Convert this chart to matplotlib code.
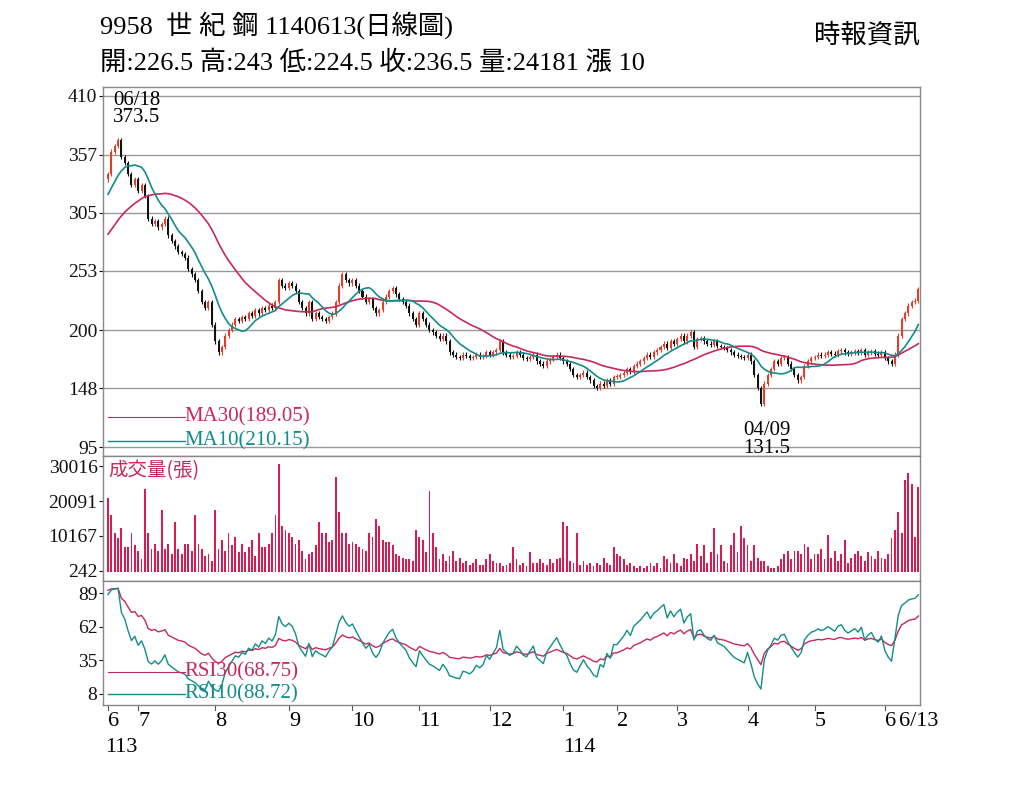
import matplotlib
matplotlib.use("Agg")
import matplotlib.pyplot as plt
from matplotlib import font_manager
import numpy as np
import pandas as pd

_names = {f.name for f in font_manager.fontManager.ttflist}
CJK = [f for f in ["Noto Sans CJK TC", "Noto Sans CJK JP", "Noto Sans CJK SC", "Noto Sans CJK KR"] if f in _names]
plt.rcParams['font.family'] = ['Liberation Serif'] + CJK

# ---------------- data ----------------
pre_closes = [230, 235, 240, 238, 245, 250, 255, 252, 260, 265, 262, 270, 275, 272, 280,
              285, 290, 288, 295, 300, 305, 302, 310, 315, 312, 320, 325, 330, 328, 335]
month_lengths = [9, 23, 22, 19, 20, 21, 22, 16, 18, 21, 20, 21, 11]
month_labels = ["6", "7", "8", "9", "10", "11", "12", "1", "2", "3", "4", "5", "6"]
closes = (
    [340, 360, 365, 370, 355, 350, 340, 330, 335] +
    [325, 330, 320, 300, 295, 298, 292, 295, 300, 285, 280, 275, 270, 268, 265, 255, 250, 245, 235, 225, 220, 225, 205] +
    [190, 180, 185, 195, 200, 205, 210, 208, 212, 210, 215, 213, 218, 215, 220, 218, 222, 220, 225, 245, 240, 238] +
    [242, 240, 235, 225, 220, 215, 225, 210, 215, 212, 210, 208, 212, 215, 225, 240, 250, 245, 242] +
    [245, 240, 235, 230, 225, 228, 220, 215, 218, 225, 230, 235, 238, 232, 228, 225, 222, 215, 210, 205] +
    [215, 210, 205, 200, 198, 195, 192, 195, 190, 180, 178, 176, 175, 178, 177, 175, 176, 178, 176, 177, 180] +
    [178, 180, 182, 190, 180, 178, 176, 177, 180, 178, 175, 174, 176, 178, 172, 170, 168, 172, 174, 176, 178, 175] +
    [172, 170, 165, 160, 158, 160, 162, 158, 155, 150, 148, 152, 150, 155, 152, 158] +
    [158, 160, 162, 165, 163, 168, 170, 172, 175, 178, 176, 180, 182, 185, 188, 184, 190, 188] +
    [192, 195, 190, 195, 198, 185, 192, 193, 190, 188, 187, 190, 186, 185, 184, 182, 180, 178, 177, 176, 175] +
    [178, 172, 160, 148, 134, 152, 160, 165, 172, 170, 175, 176, 170, 165, 160, 155, 158, 168, 172, 175] +
    [176, 178, 177, 178, 180, 179, 178, 181, 182, 180, 179, 180, 181, 180, 182, 178, 180, 181, 179, 178, 180] +
    [175, 172, 170, 178, 195, 210, 215, 222, 225, 226.5, 236.5]
)
volumes = (
    [21000, 16000, 11000, 9500, 12500, 7000, 7000, 11000, 7500] +
    [6000, 3500, 23500, 11000, 6500, 8000, 6000, 17500, 6500, 8000, 5000, 14000, 6500, 5000, 8000, 8000, 6000, 16000, 8000, 6500, 4500, 5000, 3000] +
    [17500, 6500, 9000, 6000, 11000, 7500, 10000, 5500, 8000, 5500, 7000, 9000, 4500, 11000, 7000, 7000, 8000, 11000, 16000, 30500, 13000, 12000] +
    [11000, 10000, 8000, 9000, 6000, 3500, 5000, 5500, 7500, 14000, 11000, 11000, 8500, 9000, 27000, 17000, 11000, 11000, 8000] +
    [8500, 8000, 7000, 6500, 6000, 11000, 10000, 15000, 13000, 9000, 8500, 8500, 7500, 5000, 4500, 4000, 3500, 3500, 3000, 12000] +
    [10000, 9000, 5500, 23000, 11000, 7000, 3500, 5000, 3000, 4500, 6000, 3000, 4000, 2500, 3000, 2000, 2500, 3500, 2000, 2000, 3500] +
    [5000, 3000, 2500, 2500, 1500, 2000, 2500, 7000, 3500, 2000, 2500, 1500, 5500, 2500, 2500, 3500, 2500, 2000, 3500, 2500, 3500, 4000] +
    [14000, 13000, 3000, 2500, 11000, 2000, 3000, 2000, 2500, 1500, 2500, 2000, 4000, 2500, 2000, 7000] +
    [5000, 4500, 3500, 2000, 2500, 1500, 1000, 1500, 1000, 1500, 2500, 1500, 2500, 1000, 4500, 3500, 2500, 5000] +
    [2500, 1500, 4000, 3500, 5000, 3000, 8000, 4500, 7500, 2500, 5500, 12500, 5000, 7500, 3000, 2500, 7500, 11000, 5500, 13000, 9500] +
    [7500, 3000, 7500, 4000, 3000, 3000, 1500, 1000, 1000, 1500, 3500, 5000, 6000, 3500, 6000, 6000, 5000, 8000, 7000, 3500] +
    [5000, 5000, 6500, 3500, 10500, 4000, 6000, 3000, 5000, 9000, 2500, 4000, 5000, 6000, 4500, 3000, 5500, 4500, 3500, 6000, 4000] +
    [3500, 5000, 9500, 12000, 17000, 11000, 26000, 28000, 25000, 10000, 24181]
)
price_ticks = [410, 357, 305, 253, 200, 148, 95]
vol_ticks = [242, 10167, 20091, 30016]
rsi_ticks = [89, 62, 35, 8]

n = min(len(closes), len(volumes))
closes = closes[:n]
volumes = volumes[:n]

full = pd.Series(pre_closes + closes, dtype=float)
ma10 = full.rolling(10, min_periods=1).mean().values[len(pre_closes):]
ma30 = full.rolling(30, min_periods=1).mean().values[len(pre_closes):]
diff = full.diff()
def rsi(p):
    up = diff.clip(lower=0).ewm(alpha=1 / p, adjust=False).mean()
    dn = (-diff.clip(upper=0)).ewm(alpha=1 / p, adjust=False).mean()
    return (100 * up / (up + dn)).values[len(pre_closes):]
rsi10 = rsi(10)
rsi30 = rsi(30)
opens = [pre_closes[-1]] + closes[:-1]
x = np.arange(n)

# ---------------- figure ----------------
W, H = 1024, 788
fig = plt.figure(figsize=(W / 100, H / 100), dpi=100)
L, R = 103, 920
def ax_at(top, bot):
    return fig.add_axes([L / W, 1 - bot / H, (R - L) / W, (bot - top) / H])

RED = '#e0402a'
MAC = '#c8285a'
TEAL = '#138c8c'
VOLC = '#d81b50'

ax1 = ax_at(87, 456)
ax2 = ax_at(456, 581)
ax3 = ax_at(581, 705)
for a in (ax1, ax2, ax3):
    a.set_xlim(-1.5, n - 0.5)
    a.set_xticks([])
    for s in a.spines.values():
        s.set_color('#888888')
        s.set_linewidth(1.0)
    a.tick_params(axis='y', length=3, labelsize=14, pad=1, colors='#111111')

# price
ax1.set_ylim(95 - 9 / 1.143 + 0.1, 410 + 9 / 1.143)
ax1.set_yticks(price_ticks)
for t in price_ticks:
    ax1.axhline(t, color='#999999', lw=1, zorder=0)
for i in x:
    o, c = opens[i], closes[i]
    col = RED if c >= o else '#111111'
    lo, hi = min(o, c), max(o, c)
    if hi - lo < 0.8:
        hi = lo + 0.8
    ax1.bar(i, hi - lo, bottom=lo, width=0.6, color=col, lw=0, zorder=3)
    ax1.vlines(i, lo - 2, hi + 2, color=col, lw=0.8, zorder=3)
ax1.plot(x, ma30, color=MAC, lw=1.2, zorder=4)
ax1.plot(x, ma10, color=TEAL, lw=1.2, zorder=4)
imin = int(np.argmin(closes))
ax1.text(0.012, 0.99, "06/18\n373.5", transform=ax1.transAxes, va='top', ha='left', fontsize=15, linespacing=0.9)
ax1.text(imin / n + 0.01, -0.005, "04/09\n131.5", transform=ax1.transAxes, va='bottom', ha='center', fontsize=15, linespacing=0.9)
ax1.plot([0.006, 0.1], [0.105, 0.105], transform=ax1.transAxes, color=MAC, lw=0.8)
ax1.plot([0.006, 0.1], [0.04, 0.04], transform=ax1.transAxes, color=TEAL, lw=1)
ax1.text(0.1, 0.105, "MA30(189.05)", transform=ax1.transAxes, color=MAC, va='center', fontsize=15)
ax1.text(0.1, 0.04, "MA10(210.15)", transform=ax1.transAxes, color=TEAL, va='center', fontsize=15)

# volume
pu = 104 / (30016 - 242)
ax2.set_ylim(242 - 10 / pu, 30016 + 10 / pu)
ax2.set_yticks(vol_ticks)
ax2.bar(x, volumes, width=0.55, color=VOLC, bottom=0)
ax2.text(0.006, 0.88, "成交量(張)", transform=ax2.transAxes, color=MAC, va='center', fontsize=14,
         fontfamily=CJK)

# rsi
ax3.set_ylim(8 - 11 / 1.2346, 89 + 12 / 1.2346)
ax3.set_yticks(rsi_ticks)
ax3.plot(x, rsi30, color=MAC, lw=1.0)
ax3.plot(x, rsi10, color=TEAL, lw=1.0)
ax3.plot([0.006, 0.1], [0.27, 0.27], transform=ax3.transAxes, color=MAC, lw=0.8)
ax3.plot([0.006, 0.1], [0.09, 0.09], transform=ax3.transAxes, color=TEAL, lw=1)
ax3.text(0.1, 0.27, "RSI30(68.75)", transform=ax3.transAxes, color=MAC, va='center', fontsize=15)
ax3.text(0.1, 0.09, "RSI10(88.72)", transform=ax3.transAxes, color=TEAL, va='center', fontsize=15)

# month labels
starts = np.cumsum([0] + month_lengths[:-1])
for s, lab in zip(starts, month_labels):
    if s < n:
        ax3.text(s, -0.06, lab, transform=ax3.get_xaxis_transform(), ha='left', va='top', fontsize=16)
        ax3.plot([s, s], [-0.04, 0.0], transform=ax3.get_xaxis_transform(), color='#555555', lw=0.8, clip_on=False)
ax3.text(n - 1, -0.06, "6/13", transform=ax3.get_xaxis_transform(), ha='center', va='top', fontsize=16)
ax3.text(starts[0] - 1, -0.27, "113", transform=ax3.get_xaxis_transform(), ha='left', va='top', fontsize=16)
ax3.text(starts[7], -0.27, "114", transform=ax3.get_xaxis_transform(), ha='left', va='top', fontsize=16)

# titles
fam = ['Liberation Serif'] + CJK
fig.text(100 / W, 1 - 25 / H, "9958  世 紀 鋼 1140613(日線圖)", fontsize=19, va='center', fontfamily=fam)
fig.text(100 / W, 1 - 63 / H, "開:226.5 高:243 低:224.5 收:236.5 量:24181 漲 10", fontsize=19, va='center',
         fontfamily=fam)
fig.text(920 / W, 1 - 35 / H, "時報資訊", fontsize=19, va='center', ha='right', fontfamily=CJK)

fig.savefig("out.png", dpi=100, facecolor='white')
